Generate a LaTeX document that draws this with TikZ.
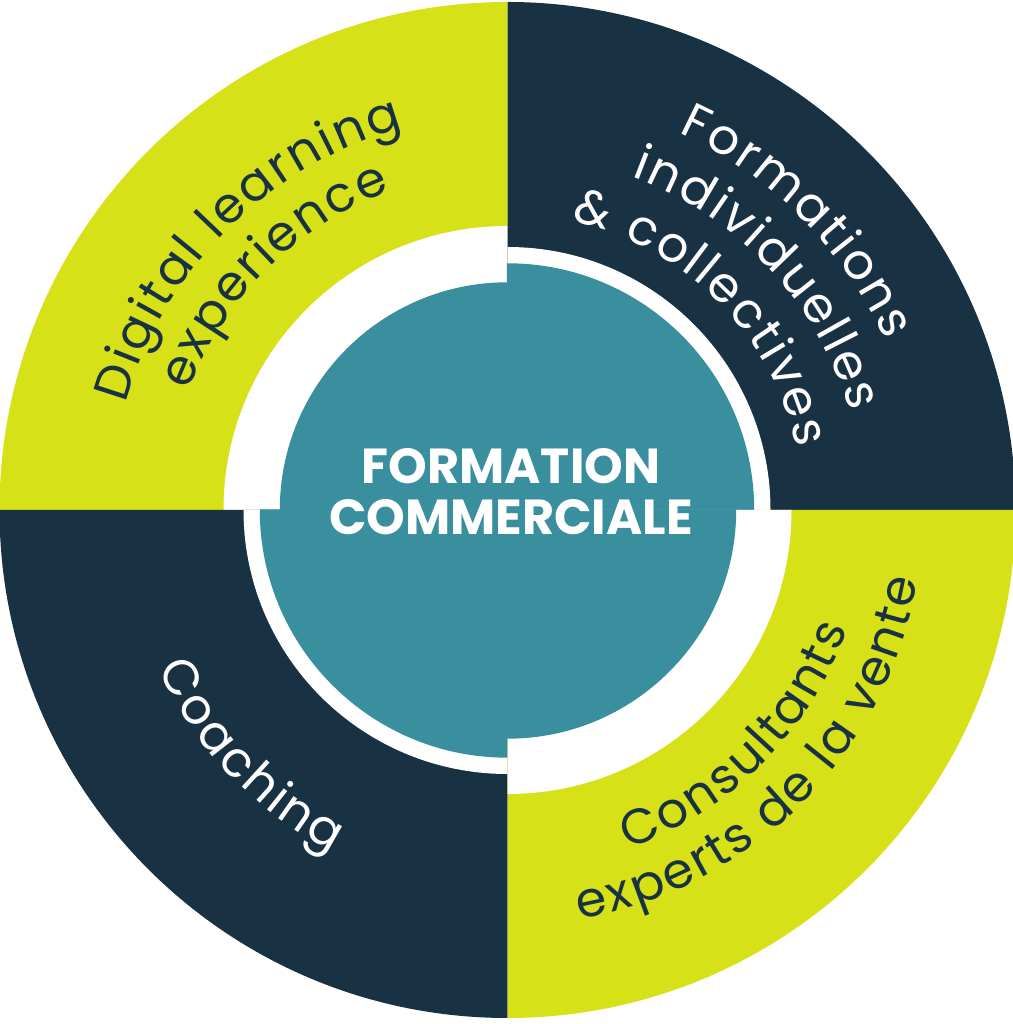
\documentclass[tikz,border=0pt]{standalone}
\usepackage{fontspec}
\setmainfont{Poppins}
\usetikzlibrary{decorations.text}
\definecolor{lime}{HTML}{D6E118}
\definecolor{navy}{HTML}{183143}
\definecolor{teal}{HTML}{3A8F9F}
\newcommand\navyring{\fontsize{14}{14}\selectfont\color{navy}\kern0.7pt}
\newcommand\whitering{\fontsize{14}{14}\selectfont\color{white}\kern0.7pt}
\tikzset{
  arclabel/.style={decorate, decoration={text along path, text align=center, text={#1}}},
  hubtext/.style={align=center, inner sep=0pt, text=white, font=\fontsize{14}{14.5}\selectfont\bfseries}
}
\begin{document}
\begin{tikzpicture}[x=0.01cm, y=0.01cm]
    \useasboundingbox (0,0) rectangle (1013,1024);
    \coordinate (hub) at (507.5,514);

    % Quadrants:
    \fill[lime] (hub) -- ++(90:508) arc[start angle=90, end angle=180, radius=508] -- cycle;
    \fill[white] (hub) -- ++(90:284) arc[start angle=90, end angle=180, radius=284] -- cycle;
    \filldraw[teal, line width=0.4pt] (hub) -- ++(90:227) arc[start angle=90, end angle=180, radius=227] -- cycle;

    \fill[navy] (hub) -- ++(0:508) arc[start angle=0, end angle=90, radius=508] -- cycle;
    \fill[white] (hub) -- ++(0:263) arc[start angle=0, end angle=90, radius=263] -- cycle;
    \filldraw[teal, line width=0.4pt] (hub) -- ++(0:246) arc[start angle=0, end angle=90, radius=246] -- cycle;

    \fill[navy] (hub) -- ++(180:508) arc[start angle=180, end angle=270, radius=508] -- cycle;
    \fill[white] (hub) -- ++(180:264) arc[start angle=180, end angle=270, radius=264] -- cycle;
    \filldraw[teal, line width=0.4pt] (hub) -- ++(180:247) arc[start angle=180, end angle=270, radius=247] -- cycle;

    \fill[lime] (hub) -- ++(270:508) arc[start angle=270, end angle=360, radius=508] -- cycle;
    \fill[white] (hub) -- ++(270:284) arc[start angle=270, end angle=360, radius=284] -- cycle;
    \filldraw[teal, line width=0.4pt] (hub) -- ++(270:228) arc[start angle=270, end angle=360, radius=228] -- cycle;

    % Centre:
    \node[hubtext] (centre) at (511,532) {FORMATION\\COMMERCIALE};

    % Curved labels:
    \path[arclabel={|\navyring|Digital learning}] ([shift={(180:396)}]hub) arc[start angle=180, end angle=90, radius=396];
    \path[arclabel={|\navyring|experience}] ([shift={(180:340)}]hub) arc[start angle=180, end angle=90, radius=340];

    \path[arclabel={|\whitering|Formations}] ([shift={(90:414)}]hub) arc[start angle=90, end angle=0, radius=414];
    \path[arclabel={|\whitering|individuelles}] ([shift={(88:356)}]hub) arc[start angle=88, end angle=-2, radius=356];
    \path[arclabel={|\whitering|{\&} collectives}] ([shift={(90:296)}]hub) arc[start angle=90, end angle=0, radius=296];

    \path[arclabel={|\whitering|Coaching}] ([shift={(178.5:384)}]hub) arc[start angle=178.5, end angle=268.5, radius=384];

    \path[arclabel={|\navyring|Consultants}] ([shift={(270:360)}]hub) arc[start angle=270, end angle=360, radius=360];
    \path[arclabel={|\navyring|experts de la vente}] ([shift={(270:416)}]hub) arc[start angle=270, end angle=360, radius=416];
\end{tikzpicture}
\end{document}
